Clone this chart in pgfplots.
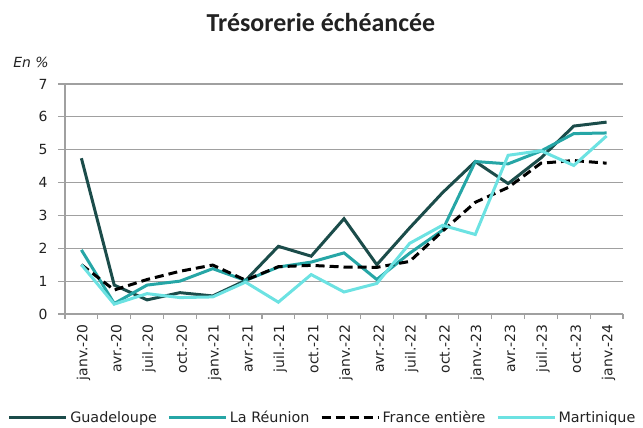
\documentclass[border=0pt]{standalone}
\usepackage{pgfplots}
\pgfplotsset{compat=1.18}
\usepackage{fontspec}
\setmainfont{DejaVu Sans}
\newfontfamily\titlefont{Carlito}
\definecolor{cGua}{HTML}{1B4C4A}
\definecolor{cReu}{HTML}{26A6A6}
\definecolor{cMar}{HTML}{6CE2E2}
\definecolor{cGrid}{HTML}{A0A0A0}
\definecolor{cTxt}{HTML}{222222}
\pgfplotstableread{
x G R F M
0 4.74 1.95 1.50 1.50
1 0.88 0.32 0.73 0.30
2 0.43 0.88 1.05 0.62
3 0.65 1.00 1.30 0.50
4 0.55 1.38 1.49 0.52
5 1.02 1.02 1.03 0.97
6 2.06 1.43 1.44 0.36
7 1.76 1.58 1.48 1.20
8 2.90 1.86 1.43 0.67
9 1.50 1.05 1.42 0.93
10 2.62 1.85 1.60 2.15
11 3.69 2.55 2.52 2.70
12 4.64 4.64 3.40 2.42
13 3.97 4.57 3.85 4.83
14 4.75 4.96 4.59 4.97
15 5.72 5.49 4.67 4.52
16 5.84 5.51 4.59 5.42
}\datatable
\begin{document}
\begin{tikzpicture}[x=1bp,y=1bp]
\path[use as bounding box] (-65,-113) rectangle (578,314);
\begin{axis}[
  at={(0,0)}, anchor=south west,
  scale only axis, width=558bp, height=230bp,
  xmin=-0.5, xmax=16.5, ymin=0, ymax=7,
  axis x line*=bottom, axis y line*=left,
  axis line style={cGrid, line width=1.2bp, -},
  ytick={0,1,...,7},
  ymajorgrids, grid style={cGrid, line width=1.2bp},
  xtick={0,1,...,16},
  xticklabels={janv.-20,avr.-20,juil.-20,oct.-20,janv.-21,avr.-21,juil.-21,oct.-21,janv.-22,avr.-22,juil.-22,oct.-22,janv.-23,avr.-23,juil.-23,oct.-23,janv.-24},
  minor xtick={-0.5,0.5,...,16.5},
  major x tick style={draw=none},
  minor tick length=5bp, major tick length=7bp,
  tick align=outside,
  tick style={cGrid, line width=1.2bp},
  xticklabel style={rotate=90, anchor=east, yshift=-2bp, font=\fontsize{14}{16}\selectfont, text=cTxt},
  yticklabel style={anchor=east, xshift=-7bp, font=\fontsize{14}{16}\selectfont, text=cTxt},
  /pgf/number format/assume math mode=true,
  legend columns=4,
  legend style={at={(axis description cs:0.462,-0.452)}, anchor=center, draw=none, fill=none,
    inner sep=0pt, font=\fontsize{14.4}{16}\selectfont, text=cTxt,
    nodes={inner sep=2.5bp},
    /tikz/every even column/.append style={column sep=8bp}},
  legend image code/.code={\draw[#1] (0bp,0bp) -- (57bp,0bp);},
  clip=false,
]
\addplot[cGua, line width=3bp] table[x=x,y=G]{\datatable};
\addlegendentry{Guadeloupe}
\addplot[cReu, line width=3bp] table[x=x,y=R]{\datatable};
\addlegendentry{La Réunion}
\addplot[black, line width=3bp, dash pattern=on 9bp off 5bp] table[x=x,y=F]{\datatable};
\addlegendentry{France entière}
\addplot[cMar, line width=3bp] table[x=x,y=M]{\datatable};
\addlegendentry{Martinique}
\end{axis}
\node[font=\titlefont\bfseries\fontsize{26}{30}\selectfont, text=cTxt] at (256,291) {Trésorerie échéancée};
\node[font=\itshape\fontsize{14}{16}\selectfont, text=cTxt] at (-34,252) {En \%};
\end{tikzpicture}
\end{document}
